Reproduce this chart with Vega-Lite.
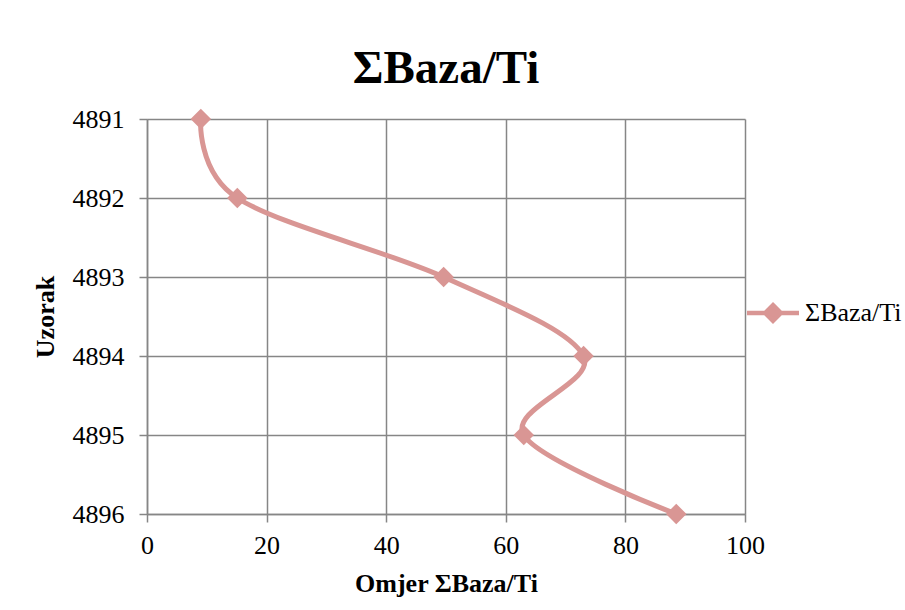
{
  "$schema": "https://vega.github.io/schema/vega-lite/v6.json",
  "width": 598,
  "height": 395,
  "autosize": {"type": "none"},
  "padding": {"left": 147, "top": 119, "right": 160, "bottom": 96},
  "background": "white",
  "title": {
    "text": "ΣBaza/Ti",
    "font": "Liberation Serif",
    "fontSize": 47,
    "fontWeight": "bold",
    "color": "black",
    "anchor": "middle",
    "frame": "group",
    "baseline": "alphabetic",
    "offset": -24
  },
  "data": {
    "values": [
      {"Uzorak": 4891, "Omjer": 9.0, "Serija": "ΣBaza/Ti"},
      {"Uzorak": 4892, "Omjer": 15.1, "Serija": "ΣBaza/Ti"},
      {"Uzorak": 4893, "Omjer": 49.6, "Serija": "ΣBaza/Ti"},
      {"Uzorak": 4894, "Omjer": 73.0, "Serija": "ΣBaza/Ti"},
      {"Uzorak": 4895, "Omjer": 63.0, "Serija": "ΣBaza/Ti"},
      {"Uzorak": 4896, "Omjer": 88.5, "Serija": "ΣBaza/Ti"}
    ]
  },
  "encoding": {
    "x": {
      "field": "Omjer",
      "type": "quantitative",
      "title": "Omjer ΣBaza/Ti",
      "scale": {"domain": [0, 100], "nice": false, "zero": true},
      "axis": {
        "values": [0, 20, 40, 60, 80, 100],
        "labelFlush": false,
        "labelPadding": 10,
        "titlePadding": 12
      }
    },
    "y": {
      "field": "Uzorak",
      "type": "quantitative",
      "title": "Uzorak",
      "scale": {"domain": [4891, 4896], "nice": false, "zero": false, "reverse": true},
      "axis": {
        "values": [4891, 4892, 4893, 4894, 4895, 4896],
        "format": "d",
        "labelFlush": false,
        "labelPadding": 15,
        "titlePadding": 14
      }
    },
    "color": {
      "field": "Serija",
      "type": "nominal",
      "scale": {"range": ["#D99694"]},
      "legend": {
        "title": null,
        "orient": "none",
        "legendX": 613,
        "legendY": 181,
        "padding": 0,
        "symbolType": "M-2.5,0H2.5M0,-0.75L0.75,0L0,0.75L-0.75,0Z",
        "symbolSize": 433,
        "symbolStrokeWidth": 4.5,
        "symbolFillColor": "#D99694",
        "symbolStrokeColor": "#D99694",
        "symbolOpacity": 1,
        "labelOffset": 19,
        "labelFont": "Liberation Serif",
        "labelFontSize": 26,
        "labelColor": "black",
        "labelLimit": 200
      }
    }
  },
  "layer": [
    {
      "mark": {"type": "line", "interpolate": "cardinal", "strokeWidth": 5},
      "encoding": {"order": {"field": "Uzorak", "type": "quantitative"}}
    },
    {
      "mark": {"type": "point", "shape": "diamond", "filled": true, "size": 420, "opacity": 1}
    }
  ],
  "config": {
    "view": {"stroke": null},
    "axis": {
      "grid": true,
      "gridColor": "#868686",
      "gridWidth": 1.5,
      "gridOpacity": 1,
      "domainColor": "#868686",
      "domainWidth": 1.5,
      "tickColor": "#868686",
      "tickWidth": 1.5,
      "tickSize": 8,
      "labelFont": "Liberation Serif",
      "labelFontSize": 26,
      "labelColor": "black",
      "titleFont": "Liberation Serif",
      "titleFontSize": 26,
      "titleFontWeight": "bold",
      "titleColor": "black"
    }
  }
}
